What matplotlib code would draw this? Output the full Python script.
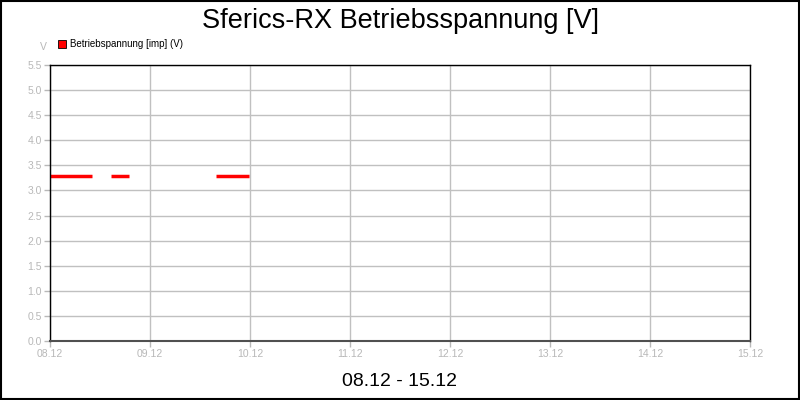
import matplotlib
matplotlib.use("Agg")
import matplotlib.pyplot as plt
import numpy as np
from matplotlib.patches import Rectangle

plt.rcParams["font.family"] = ["Liberation Sans", "DejaVu Sans"]

# days since 08.12 00:00 for each sample; NaN breaks the line
day_offsets = [0.00, 0.42, np.nan, 0.61, 0.79, np.nan, 1.66, 1.99]
voltage = [3.29, 3.29, np.nan, 3.29, 3.29, np.nan, 3.29, 3.29]
day_labels = ["08.12", "09.12", "10.12", "11.12", "12.12", "13.12", "14.12", "15.12"]
y_ticks = [0.0, 0.5, 1.0, 1.5, 2.0, 2.5, 3.0, 3.5, 4.0, 4.5, 5.0, 5.5]

TICK_GREY = "#b8b8b8"
GRID_GREY = "#c0c0c0"

fig = plt.figure(figsize=(8, 4), dpi=100)
ax = fig.add_axes([0.0625, 0.1475, 0.875, 0.69])

ax.plot(day_offsets, voltage, color="#ff0000", linewidth=2.5, solid_capstyle="butt")

ax.set_xlim(0, 7)
ax.set_ylim(0, 5.5)
ax.set_xticks(np.arange(len(day_labels)))
ax.set_xticklabels(day_labels)
ax.set_yticks(y_ticks)
ax.set_yticklabels([f"{v:.1f}" for v in y_ticks])
ax.tick_params(colors=TICK_GREY, labelsize=7.5, length=4, width=1, pad=2)
ax.grid(True, color=GRID_GREY, linewidth=1)
ax.set_axisbelow(True)
for side in ["top", "right", "left"]:
    ax.spines[side].set_color("black")
    ax.spines[side].set_linewidth(1)
ax.spines["bottom"].set_color("#505050")
ax.spines["bottom"].set_linewidth(1.5)

fig.text(0.5, 0.948, "Sferics-RX Betriebsspannung [V]", ha="center", va="center",
         fontsize=19.5)
fig.text(0.5, 0.047, "08.12 - 15.12", ha="center", va="center", fontsize=14)
fig.text(0.054, 0.882, "V", ha="center", va="center", fontsize=7.5, color=TICK_GREY)

# legend entry
fig.patches.append(Rectangle((0.0725, 0.88), 0.0095, 0.019, transform=fig.transFigure,
                             facecolor="#ff0000", edgecolor="black", linewidth=0.6))
fig.text(0.087, 0.889, "Betriebspannung [imp] (V)", ha="left", va="center", fontsize=7)

# outer frame
fig.patches.append(Rectangle((0.001, 0.002), 0.9975, 0.9955, transform=fig.transFigure,
                             fill=False, edgecolor="black", linewidth=1.5))

fig.savefig("out.png", dpi=100)
